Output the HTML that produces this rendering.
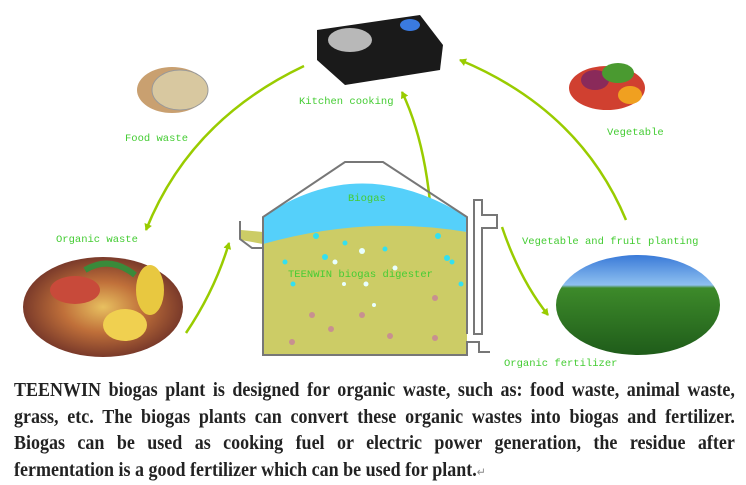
<!DOCTYPE html>
<html><head><meta charset="utf-8"><style>
html,body{margin:0;padding:0;background:#fff;width:746px;height:483px;overflow:hidden}
svg{position:absolute;left:0;top:0}
.lb{font-family:"Liberation Mono",monospace;font-size:10.5px;fill:#44cc33}
.txt{position:absolute;left:14px;top:377px;width:801px;transform:scaleX(0.9);transform-origin:0 0;font-family:"Liberation Serif",serif;font-weight:bold;font-size:20px;color:#222}
.ln{height:26.5px;line-height:26px;text-align:justify;text-align-last:justify;white-space:nowrap}
</style></head><body>
<svg width="746" height="483" viewBox="0 0 746 483">
<defs>
<marker id="ah" markerWidth="8" markerHeight="8" refX="6" refY="4" orient="auto" markerUnits="userSpaceOnUse"><path d="M0,0 L7,4 L0,8 Z" fill="#99cc00"/></marker>
<radialGradient id="fw" cx="50%" cy="50%" r="50%"><stop offset="0" stop-color="#e8c060"/><stop offset="0.5" stop-color="#c0703a"/><stop offset="1" stop-color="#7a3a2a"/></radialGradient>
<linearGradient id="fd" x1="0" y1="0" x2="0" y2="1"><stop offset="0" stop-color="#3a7ad8"/><stop offset="0.3" stop-color="#8ec0f0"/><stop offset="0.33" stop-color="#3d8a2a"/><stop offset="1" stop-color="#1f5c1a"/></linearGradient>
</defs>
<g fill="none" stroke="#99cc00" stroke-width="2.5">
<path d="M304,66 Q190,120 146,230" marker-end="url(#ah)"/>
<path d="M186,333 Q215,290 229,243" marker-end="url(#ah)"/>
<path d="M431,213 Q425,140 402,92" marker-end="url(#ah)"/>
<path d="M502,227 Q520,280 548,315" marker-end="url(#ah)"/>
<path d="M626,220 Q580,110 460,60" marker-end="url(#ah)"/>
</g>
<ellipse cx="103" cy="307" rx="80" ry="50" fill="url(#fw)"/>
<ellipse cx="75" cy="290" rx="25" ry="14" fill="#c84a3a"/>
<ellipse cx="125" cy="325" rx="22" ry="16" fill="#f0d050"/>
<ellipse cx="150" cy="290" rx="14" ry="25" fill="#e8c840"/>
<path d="M85,270 Q110,255 135,275" stroke="#3a8a3a" stroke-width="6" fill="none"/>
<ellipse cx="638" cy="305" rx="82" ry="50" fill="url(#fd)"/>
<path d="M317,30 L420,15 L443,45 L440,70 L345,85 L317,60 Z" fill="#1a1a1a"/>
<ellipse cx="350" cy="40" rx="22" ry="12" fill="#b8b8b8"/>
<ellipse cx="410" cy="25" rx="10" ry="6" fill="#3a7ae0"/>
<ellipse cx="172" cy="90" rx="35" ry="23" fill="#c9a070"/>
<ellipse cx="180" cy="90" rx="28" ry="20" fill="#d8c8a0" stroke="#999"/>
<ellipse cx="607" cy="88" rx="38" ry="22" fill="#d04030"/>
<ellipse cx="595" cy="80" rx="14" ry="10" fill="#8a2a5a"/>
<ellipse cx="618" cy="73" rx="16" ry="10" fill="#4a9a30"/>
<ellipse cx="630" cy="95" rx="12" ry="9" fill="#f0a020"/>
<path d="M263,354 L263,233 Q365,210 467,232 L467,354 Z" fill="#cccc66"/>
<path d="M241,230 L263,232 L263,244 L241,240 Z" fill="#cccc66"/>
<path d="M263,217 Q360,150 467,217 L467,232 Q365,215 263,244 Z" fill="#55d0fa"/>
<g fill="none" stroke="#777" stroke-width="2">
<path d="M240,221 L240,239 L252,248 L263,248 L263,217 L345,162 L383,162 L467,217 L467,334"/>
<path d="M263,248 L263,355 L467,355 L467,342 L479,342 L479,352 L490,352"/>
<path d="M474,334 L474,200 L482,200 L482,215 L497,215 L497,228 L482,228 L482,334 Z"/>
</g>
<g fill="#33e0f0"><circle cx="316" cy="236" r="3"/><circle cx="438" cy="236" r="3"/><circle cx="345" cy="243" r="2.5"/><circle cx="325" cy="257" r="3"/><circle cx="385" cy="249" r="2.5"/><circle cx="447" cy="258" r="3"/><circle cx="293" cy="284" r="2.5"/><circle cx="461" cy="284" r="2.5"/><circle cx="285" cy="262" r="2.5"/><circle cx="452" cy="262" r="2.5"/></g>
<g fill="#e8ffff"><circle cx="362" cy="251" r="3"/><circle cx="335" cy="262" r="2.5"/><circle cx="395" cy="268" r="2.5"/><circle cx="344" cy="284" r="2"/><circle cx="366" cy="284" r="2.5"/><circle cx="374" cy="305" r="2"/></g>
<g fill="#c89090"><circle cx="312" cy="315" r="3"/><circle cx="362" cy="315" r="3"/><circle cx="435" cy="298" r="3"/><circle cx="331" cy="329" r="3"/><circle cx="390" cy="336" r="3"/><circle cx="292" cy="342" r="3"/><circle cx="435" cy="338" r="3"/></g>
<text class="lb" x="299" y="104">Kitchen cooking</text>
<text class="lb" x="125" y="141">Food waste</text>
<text class="lb" x="56" y="242">Organic waste</text>
<text class="lb" x="607" y="135">Vegetable</text>
<text class="lb" x="522" y="244">Vegetable and fruit planting</text>
<text class="lb" x="504" y="366">Organic fertilizer</text>
<text class="lb" x="348" y="201">Biogas</text>
<text class="lb" x="288" y="277">TEENWIN biogas digester</text>
</svg>
<div class="txt">
<div class="ln">TEENWIN biogas plant is designed for organic waste, such as: food waste, animal waste,</div>
<div class="ln">grass, etc. The biogas plants can convert these organic wastes into biogas and fertilizer.</div>
<div class="ln">Biogas can be used as cooking fuel or electric power generation, the residue after</div>
<div style="height:26.5px;line-height:26px;white-space:nowrap">fermentation is a good fertilizer which can be used for plant.<span style="font-weight:normal;font-size:12px;color:#888">↵</span></div>
</div>
</body></html>
